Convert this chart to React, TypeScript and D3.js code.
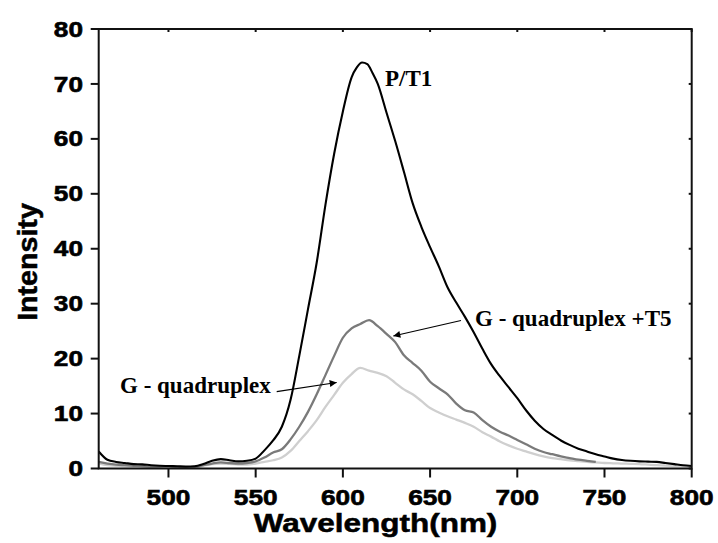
import React from "react";
import * as d3 from "d3";

const wavelengthsFull: number[] = [460,465,470,475,480,485,490,495,500,505,510,515,520,525,530,535,540,545,550,555,560,565,570,575,580,585,590,595,600,605,608,611,614,617,620,625,630,635,640,645,650,655,660,665,670,675,680,685,690,695,700,705,710,715,720,725,730,735,740,745,750,755,760,765,770,775,780,785,790,795,800];
const ptValues: number[] = [3.1,1.6,1.2,1.0,0.8,0.75,0.6,0.5,0.45,0.4,0.35,0.4,0.8,1.4,1.7,1.5,1.3,1.4,1.8,3.3,5.1,7.6,12.5,20.5,29,37.5,48,57.3,65,71.2,73,73.9,73.6,72,70,64.8,59.6,54,48.3,44,40.3,36.8,33,30.2,27.6,24.8,21.8,19,16.8,14.8,12.8,10.6,8.7,7.2,6.1,5.1,4.3,3.6,3.1,2.6,2.2,1.8,1.55,1.4,1.3,1.25,1.2,1.0,0.8,0.6,0.45];

const wavelengthsT5: number[] = [460,465,470,475,480,485,490,495,500,505,510,515,520,525,530,535,540,545,550,555,560,565,570,575,580,585,590,595,600,605,610,615,620,625,630,635,640,645,650,655,660,665,670,675,680,685,690,695,700,705,710,715,720,725,730,735,740,745];
const t5Values: number[] = [1.2,0.9,0.7,0.6,0.5,0.45,0.35,0.35,0.4,0.3,0.25,0.3,0.6,0.9,1.1,1.0,0.9,1.0,1.3,2.0,2.9,3.5,5.3,7.6,10.3,13.5,17,20.5,23.8,25.5,26.3,27.0,25.9,24.5,23.0,20.6,19.2,17.8,15.8,14.6,13.5,11.8,10.6,10.2,8.8,7.6,6.7,6.0,5.2,4.4,3.6,3.0,2.6,2.2,1.9,1.6,1.4,1.2];

const wavelengthsG: number[] = [460,465,470,475,480,485,490,495,500,505,510,515,520,525,530,535,540,545,550,555,560,565,570,575,580,585,590,595,600,605,610,615,620,625,630,635,640,645,650,655,660,665,670,675,680,685,690,695,700,705,710,715,720,725,730,735,740,745,750,755,760,765,770,775,780,785,790,795,800];
const gValues: number[] = [0.95,0.6,0.5,0.4,0.35,0.3,0.3,0.25,0.3,0.2,0.15,0.2,0.5,0.8,0.9,0.85,0.7,0.7,0.9,1.2,1.5,2.0,3.2,5.0,6.8,8.8,11.2,13.4,15.6,17.2,18.3,17.8,17.4,16.8,15.6,14.4,13.5,12.3,11.0,10.2,9.5,8.9,8.3,7.6,6.6,5.8,4.9,4.2,3.6,3.1,2.6,2.2,1.9,1.7,1.5,1.35,1.2,1.1,1.0,0.95,0.9,0.85,0.8,0.7,0.6,0.55,0.45,0.4,0.3];

const xTicks: number[] = [500, 550, 600, 650, 700, 750, 800];
const yTicks: number[] = [0, 10, 20, 30, 40, 50, 60, 70, 80];

const xTitle = "Wavelength(nm)";
const yTitle = "Intensity";
const labelPT = "P/T1";
const labelT5 = "G - quadruplex +T5";
const labelG = "G - quadruplex";

export default function App() {
  const W = 718, H = 543;
  const left = 98.7, right = 691.7, top = 29, bottom = 468.5;
  const x = d3.scaleLinear().domain([460, 800]).range([left, right]);
  const y = d3.scaleLinear().domain([0, 80]).range([bottom, top]);

  const mk = (xs: number[], vs: number[]) =>
    d3.line<number>().x((_, i) => x(xs[i])).y((v) => y(v)).curve(d3.curveMonotoneX)(vs) || "";

  const sans = "'Liberation Sans', Arial, sans-serif";
  const serif = "'Liberation Serif', 'Times New Roman', serif";
  const sx = 1.22;

  return (
    <svg width={W} height={H} style={{ position: "absolute", left: 0, top: 0, background: "#fff" }}>
      <defs>
        <marker id="arr" viewBox="0 0 10 10" refX="10" refY="5" markerWidth="10" markerHeight="7" markerUnits="userSpaceOnUse" orient="auto">
          <path d="M0,0 L10,5 L0,10 z" fill="#000" />
        </marker>
      </defs>
      <rect x={0} y={0} width={W} height={H} fill="#fff" />

      <path d={mk(wavelengthsG, gValues)} fill="none" stroke="#cfcfcf" strokeWidth={2.3} />
      <path d={mk(wavelengthsT5, t5Values)} fill="none" stroke="#7a7a7a" strokeWidth={2.3} />
      <path d={mk(wavelengthsFull, ptValues)} fill="none" stroke="#000" strokeWidth={2.1} />

      <rect x={left} y={top} width={right - left} height={bottom - top} fill="none" stroke="#111" strokeWidth={2} />

      {xTicks.map((t) => (
        <g key={"x" + t}>
          <line x1={x(t)} x2={x(t)} y1={bottom} y2={bottom + 9} stroke="#111" strokeWidth={2} />
          <line x1={x(t)} x2={x(t)} y1={top} y2={top + 3} stroke="#111" strokeWidth={2} />
          <text transform={`translate(${x(t)},${505}) scale(${sx},1)`} textAnchor="middle" fontFamily={sans} fontWeight="bold" fontSize={21.5} fill="#000" stroke="#000" strokeWidth={0.6}>{t}</text>
        </g>
      ))}
      {yTicks.map((t) => (
        <g key={"y" + t}>
          <line x1={left - 8} x2={left} y1={y(t)} y2={y(t)} stroke="#111" strokeWidth={2} />
          <line x1={right - 3} x2={right} y1={y(t)} y2={y(t)} stroke="#111" strokeWidth={2} />
          <text transform={`translate(${83},${y(t) + 7.6}) scale(${sx},1)`} textAnchor="end" fontFamily={sans} fontWeight="bold" fontSize={21.5} fill="#000" stroke="#000" strokeWidth={0.6}>{t}</text>
        </g>
      ))}

      <text transform={`translate(375.5,531.5) scale(1.26,1)`} textAnchor="middle" fontFamily={sans} fontWeight="bold" fontSize={25} fill="#000" stroke="#000" strokeWidth={0.5}>{xTitle}</text>
      <text transform={`translate(36.5,262) rotate(-90) scale(1.06,1)`} textAnchor="middle" fontFamily={sans} fontWeight="bold" fontSize={27} fill="#000" stroke="#000" strokeWidth={0.5}>{yTitle}</text>

      <text x={385} y={86} fontFamily={serif} fontWeight="bold" fontSize={23} fill="#000">{labelPT}</text>
      <text x={475} y={325.5} fontFamily={serif} fontWeight="bold" fontSize={23} fill="#000">{labelT5}</text>
      <text x={120} y={393} fontFamily={serif} fontWeight="bold" fontSize={23} fill="#000">{labelG}</text>

      <line x1={461} x2={393.3} y1={320.5} y2={336} stroke="#000" strokeWidth={1.2} markerEnd="url(#arr)" />
      <line x1={276.7} x2={336.7} y1={391.7} y2={382.5} stroke="#000" strokeWidth={1.2} markerEnd="url(#arr)" />
    </svg>
  );
}
